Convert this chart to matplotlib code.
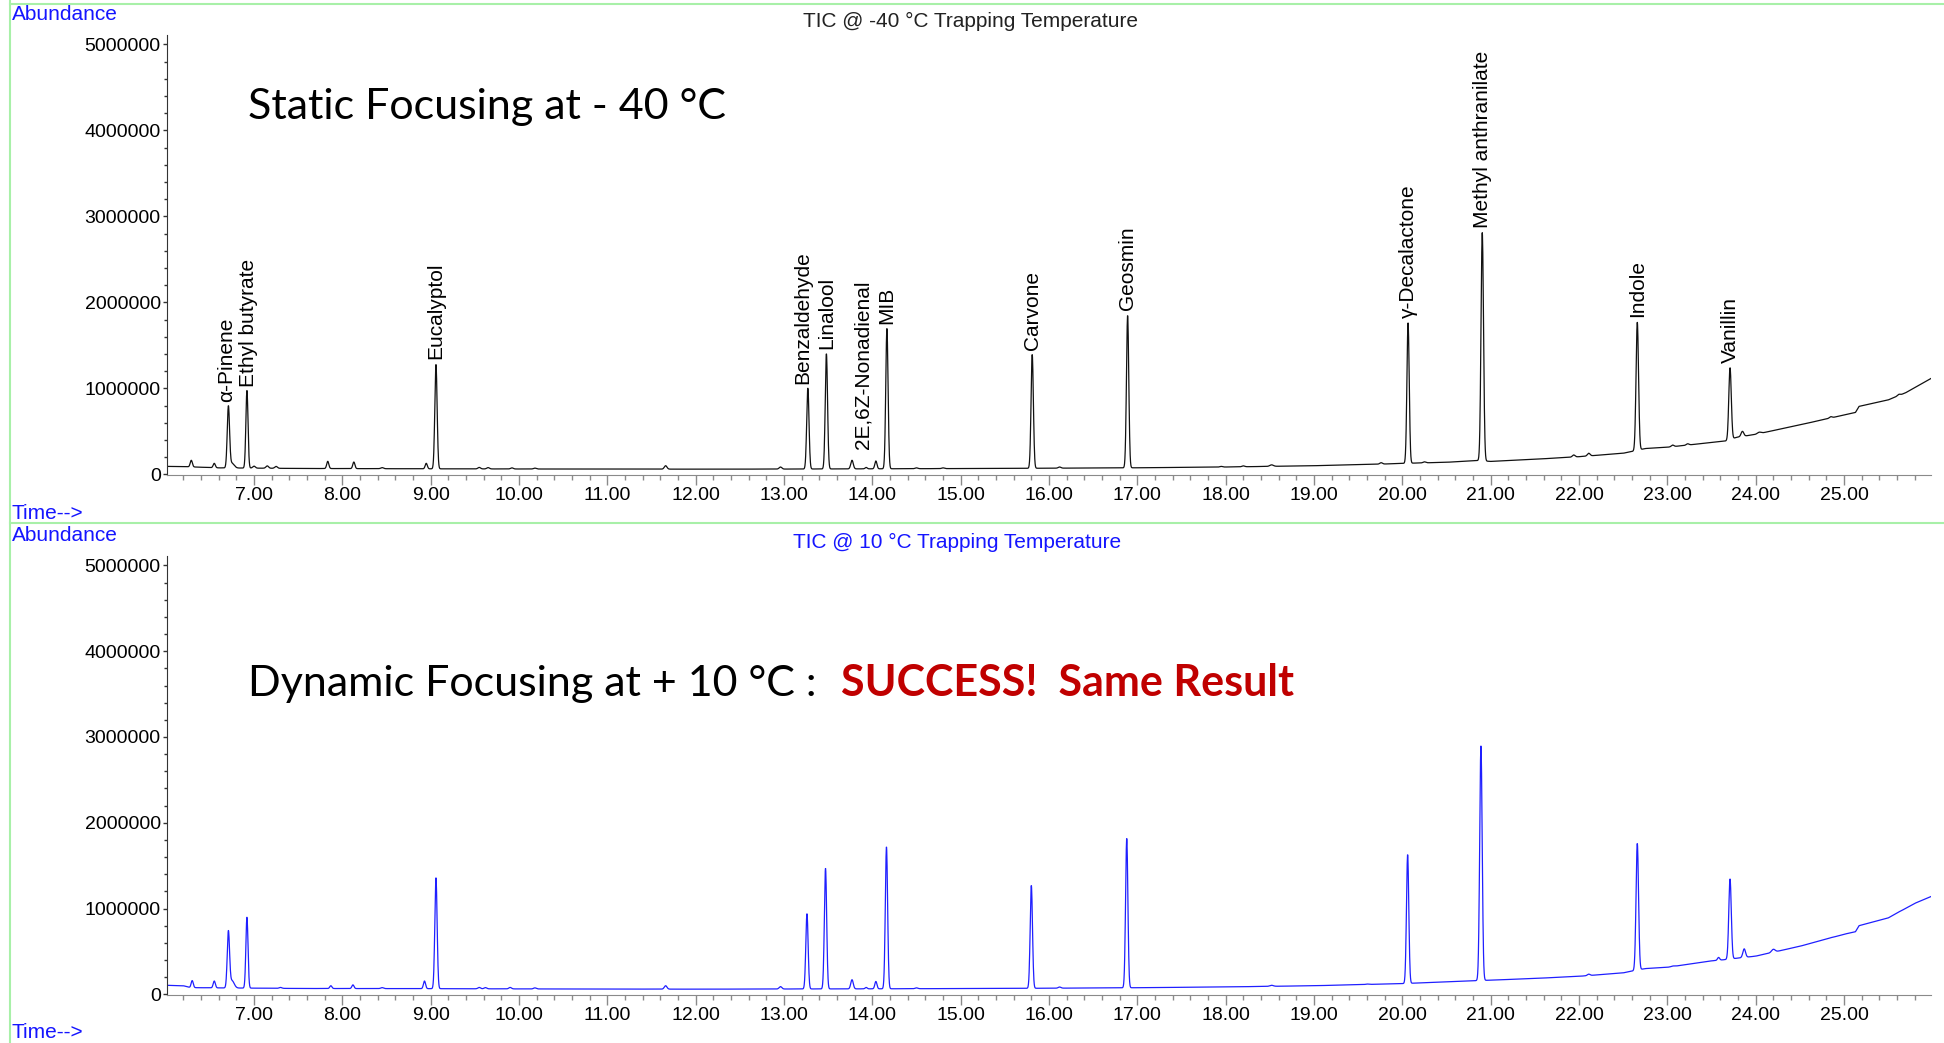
import numpy as np
import matplotlib.pyplot as plt
from matplotlib.lines import Line2D
from matplotlib.ticker import MultipleLocator, FuncFormatter

plt.rcParams['font.family'] = ['Liberation Sans', 'DejaVu Sans']

# ---- -40 °C trap (top, black) : peaks (abundance in millions)
top_rt = [6.29, 6.55, 6.71, 6.75, 6.92, 7.00, 7.15, 7.25, 7.835, 8.13, 8.45, 8.95, 9.06,
          9.55, 9.65, 9.92, 10.18, 11.66, 12.96, 13.27, 13.48, 13.77, 13.93, 14.04, 14.165,
          14.50, 14.80, 15.81, 16.12, 16.89, 17.95, 18.20, 18.52, 19.76, 20.065, 20.25,
          20.905, 21.94, 22.11, 22.66, 23.06, 23.23, 23.71, 23.85, 24.04, 24.85, 25.62]
top_apex = [0.163, 0.128, 0.783, 0.130, 0.977, 0.095, 0.098, 0.092, 0.151, 0.143, 0.078, 0.128, 1.279,
            0.080, 0.078, 0.075, 0.072, 0.100, 0.085, 1.003, 1.403, 0.163, 0.080, 0.155, 1.694,
            0.075, 0.075, 1.395, 0.085, 1.849, 0.092, 0.098, 0.110, 0.135, 1.760, 0.145,
            2.810, 0.225, 0.245, 1.770, 0.340, 0.355, 1.240, 0.500, 0.490, 0.670, 0.930]
top_width = [0.012, 0.012, 0.013, 0.025, 0.012, 0.015, 0.015, 0.015, 0.012, 0.012, 0.015, 0.012, 0.013,
             0.015, 0.015, 0.015, 0.015, 0.015, 0.015, 0.013, 0.013, 0.014, 0.012, 0.012, 0.013,
             0.015, 0.015, 0.013, 0.015, 0.013, 0.015, 0.015, 0.020, 0.015, 0.013, 0.015,
             0.014, 0.015, 0.015, 0.014, 0.015, 0.015, 0.014, 0.015, 0.020, 0.015, 0.015]
top_base_t = [6.015, 6.25, 6.6, 7.5, 9.0, 10.0, 12.0, 13.0, 14.0, 15.0, 16.0, 17.0, 18.0, 19.0,
              19.8, 20.0, 20.5, 20.85, 21.0, 21.5, 22.0, 22.5, 22.62, 22.75, 23.0, 23.5, 23.68,
              23.78, 24.0, 24.5, 25.0, 25.13, 25.17, 25.5, 25.7, 25.985]
top_base_y = [0.092, 0.088, 0.075, 0.068, 0.064, 0.062, 0.060, 0.061, 0.064, 0.067, 0.071, 0.076,
              0.085, 0.100, 0.120, 0.127, 0.140, 0.160, 0.150, 0.175, 0.205, 0.245, 0.270, 0.300,
              0.315, 0.370, 0.390, 0.430, 0.465, 0.575, 0.690, 0.720, 0.790, 0.865, 0.950, 1.115]

# ---- +10 °C trap (bottom, blue)
bot_rt = [6.30, 6.55, 6.71, 6.75, 6.92, 7.30, 7.87, 8.12, 8.45, 8.93, 9.06, 9.55, 9.62, 9.90,
          10.18, 11.66, 12.96, 13.26, 13.47, 13.77, 13.93, 14.04, 14.16, 14.50, 15.80, 16.12,
          16.88, 18.52, 19.60, 20.06, 20.89, 22.11, 22.66, 23.06, 23.58, 23.71, 23.87, 24.20,
          24.85, 25.62]
bot_apex = [0.160, 0.155, 0.720, 0.160, 0.900, 0.080, 0.100, 0.110, 0.078, 0.155, 1.360, 0.080,
            0.078, 0.080, 0.075, 0.100, 0.090, 0.940, 1.470, 0.170, 0.080, 0.150, 1.720, 0.075,
            1.270, 0.085, 1.820, 0.105, 0.120, 1.630, 2.900, 0.235, 1.760, 0.330, 0.430, 1.345,
            0.530, 0.525, 0.660, 0.960]
bot_width = [0.012, 0.012, 0.013, 0.025, 0.012, 0.015, 0.012, 0.012, 0.015, 0.012, 0.013, 0.015,
             0.015, 0.015, 0.015, 0.015, 0.015, 0.013, 0.013, 0.014, 0.012, 0.012, 0.013, 0.015,
             0.013, 0.015, 0.013, 0.020, 0.015, 0.013, 0.014, 0.015, 0.014, 0.015, 0.012, 0.014,
             0.015, 0.020, 0.015, 0.015]
bot_base_t = [6.015, 6.2, 6.28, 6.6, 7.5, 9.0, 10.0, 12.0, 13.0, 14.0, 15.0, 16.0, 17.0, 18.0,
              19.0, 19.8, 20.0, 20.5, 20.85, 21.0, 21.5, 22.0, 22.5, 22.62, 22.75, 23.0, 23.5,
              23.66, 23.78, 24.0, 24.5, 25.0, 25.13, 25.17, 25.5, 25.8, 25.985]
bot_base_y = [0.105, 0.100, 0.078, 0.075, 0.068, 0.066, 0.063, 0.060, 0.062, 0.064, 0.067, 0.071,
              0.077, 0.086, 0.100, 0.120, 0.125, 0.145, 0.160, 0.165, 0.185, 0.210, 0.250, 0.275,
              0.300, 0.315, 0.390, 0.405, 0.420, 0.445, 0.560, 0.700, 0.730, 0.800, 0.890, 1.060,
              1.140]

# compound labels (top trace only)
label_names = ['α-Pinene', 'Ethyl butyrate', 'Eucalyptol', 'Benzaldehyde', 'Linalool',
               '2E,6Z-Nonadienal', 'MIB', 'Carvone', 'Geosmin', 'γ-Decalactone',
               'Methyl anthranilate', 'Indole', 'Vanillin']
label_rt = [6.71, 6.92, 9.06, 13.27, 13.48, 13.77, 14.165, 15.81, 16.89, 20.065, 20.905, 22.66, 23.71]
# small nudges (points) so the labels don't collide
label_nudge = {'α-Pinene': (-1.5, 3.5), 'Ethyl butyrate': (1.2, 2.4), 'Benzaldehyde': (-3.5, 3.2),
               '2E,6Z-Nonadienal': (8, 8)}

W, H = 1944, 1043
XMIN, XMAX = 6.015, 25.985


def trace(rt, apex, width, bt, by):
    t = np.arange(XMIN, XMAX, 0.002)
    base = np.interp(t, bt, by)
    y = base.copy()
    for r, a, w in zip(rt, apex, width):
        h = a - np.interp(r, bt, by)
        y += h * np.exp(-0.5 * ((t - r) / w) ** 2)
    return t, y * 1e6


def style_axes(ax):
    ax.set_xlim(XMIN, XMAX)
    ax.set_ylim(-8000, 5.11e6)
    for s in ['top', 'right']:
        ax.spines[s].set_visible(False)
    ax.spines['bottom'].set_color('#8a8a8a')
    ax.spines['left'].set_color('#333333')
    ax.xaxis.set_major_locator(MultipleLocator(1))
    ax.xaxis.set_minor_locator(MultipleLocator(0.2))
    ax.yaxis.set_major_locator(MultipleLocator(1e6))
    ax.yaxis.set_minor_locator(MultipleLocator(2e5))
    ax.xaxis.set_major_formatter(FuncFormatter(lambda v, p: f'{v:.2f}' if v >= 6.5 else ''))
    ax.yaxis.set_major_formatter(FuncFormatter(lambda v, p: f'{v:.0f}'))
    ax.tick_params(axis='x', which='major', length=7, width=1, color='#8a8a8a', pad=1.5, labelsize=14)
    ax.tick_params(axis='x', which='minor', length=3.6, width=1, color='#8a8a8a')
    ax.tick_params(axis='y', which='major', length=3, width=1, color='#333333', pad=1.5, labelsize=14)
    ax.tick_params(axis='y', which='minor', length=2, width=1, color='#333333')


fig = plt.figure(figsize=(W / 100, H / 100), dpi=100)
ax1 = fig.add_axes([167 / W, 1 - 475 / H, (1931 - 167) / W, (475 - 35) / H])
ax2 = fig.add_axes([167 / W, 1 - 995 / H, (1931 - 167) / W, (995 - 556) / H])

t1, y1 = trace(top_rt, top_apex, top_width, top_base_t, top_base_y)
t2, y2 = trace(bot_rt, bot_apex, bot_width, bot_base_t, bot_base_y)
ax1.plot(t1, y1, color='#111111', lw=0.9)
ax2.plot(t2, y2, color='#1f1fff', lw=0.9)
style_axes(ax1)
style_axes(ax2)

for name, r in zip(label_names, label_rt):
    a = top_apex[top_rt.index(r)] * 1e6
    dx, dy = label_nudge.get(name, (0, 3.5))
    ax1.annotate(name, (r, a), xytext=(dx, dy), textcoords='offset points',
                 rotation=90, ha='center', va='bottom', fontsize=15)

blue = '#1515ff'
fig.text(12 / W, 1 - 20 / H, 'Abundance', color=blue, fontsize=15, va='baseline')
fig.text(12 / W, 1 - 519 / H, 'Time-->', color=blue, fontsize=15, va='baseline')
fig.text(12 / W, 1 - 541 / H, 'Abundance', color=blue, fontsize=15, va='baseline')
fig.text(12 / W, 1 - 1038 / H, 'Time-->', color=blue, fontsize=15, va='baseline')
fig.text(970 / W, 1 - 21 / H, 'TIC @ -40 °C Trapping Temperature', fontsize=15,
         ha='center', va='center', color='#222222')
fig.text(957 / W, 1 - 542 / H, 'TIC @ 10 °C Trapping Temperature', fontsize=15,
         ha='center', va='center', color=blue)

big = ['Lato', 'DejaVu Sans']
fig.text(248 / W, 1 - 119 / H, 'Static Focusing at - 40 °C', family=big,
         fontsize=31, va='baseline')
fig.text(248 / W, 1 - 696 / H, 'Dynamic Focusing at + 10 °C :', family=big,
         fontsize=31, va='baseline')
fig.text(841 / W, 1 - 696 / H, 'SUCCESS!  Same Result', family=big,
         fontsize=31, fontweight='bold', color='#c00000', va='baseline')

green = '#a8f0a8'
fig.add_artist(Line2D([10 / W, 10 / W], [0, 1], transform=fig.transFigure, color=green, lw=1.5))
fig.add_artist(Line2D([10 / W, 1], [1 - 3.5 / H, 1 - 3.5 / H], transform=fig.transFigure, color=green, lw=1.5))
fig.add_artist(Line2D([10 / W, 1], [1 - 523 / H, 1 - 523 / H], transform=fig.transFigure, color=green, lw=1.5))

fig.savefig('out.png', dpi=100)
